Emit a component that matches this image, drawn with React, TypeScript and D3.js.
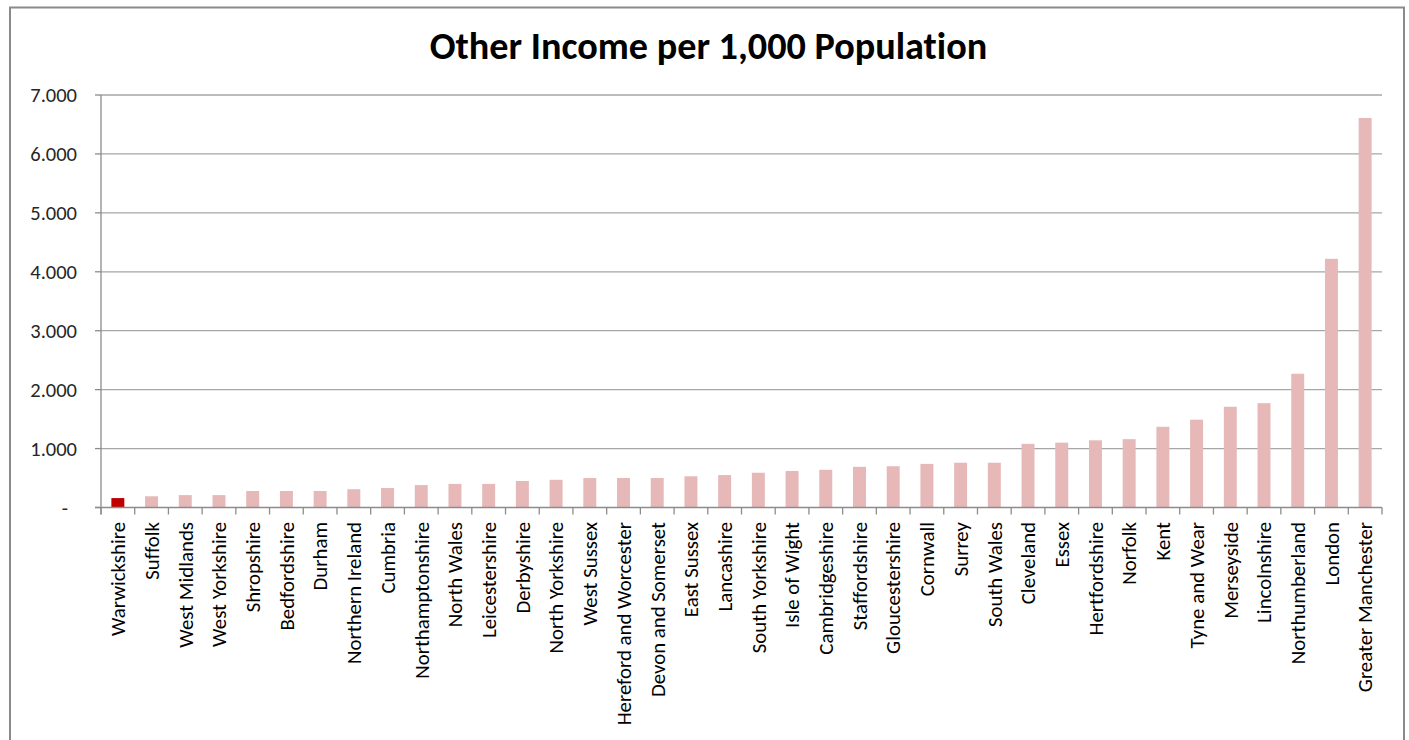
import React from "react";
import * as d3 from "d3";

const categories: string[] = [
  "Warwickshire", "Suffolk", "West Midlands", "West Yorkshire", "Shropshire",
  "Bedfordshire", "Durham", "Northern Ireland", "Cumbria", "Northamptonshire",
  "North Wales", "Leicestershire", "Derbyshire", "North Yorkshire", "West Sussex",
  "Hereford and Worcester", "Devon and Somerset", "East Sussex", "Lancashire",
  "South Yorkshire", "Isle of Wight", "Cambridgeshire", "Staffordshire",
  "Gloucestershire", "Cornwall", "Surrey", "South Wales", "Cleveland", "Essex",
  "Hertfordshire", "Norfolk", "Kent", "Tyne and Wear", "Merseyside",
  "Lincolnshire", "Northumberland", "London", "Greater Manchester",
];

const values: number[] = [
  0.16, 0.19, 0.21, 0.21, 0.28,
  0.28, 0.28, 0.31, 0.33, 0.38,
  0.40, 0.40, 0.45, 0.47, 0.50,
  0.50, 0.50, 0.53, 0.55,
  0.59, 0.62, 0.64, 0.69,
  0.70, 0.74, 0.76, 0.76, 1.08, 1.10,
  1.14, 1.16, 1.37, 1.49, 1.71,
  1.77, 2.27, 4.22, 6.61,
];

const highlighted: string[] = ["Warwickshire"];

const yTicks: number[] = [0, 1, 2, 3, 4, 5, 6, 7];
const yTickLabels: string[] = ["-", "1.000", "2.000", "3.000", "4.000", "5.000", "6.000", "7.000"];

const title = "Other Income per 1,000 Population";

const W = 1409;
const H = 740;
const plot = { left: 101, right: 1382, top: 95, bottom: 507.5 };
const FONT = "Calibri, Carlito, Lato, 'Open Sans', sans-serif";

export default function App() {
  const gap = 1.6;
  const pInner = gap / (1 + gap);
  const x = d3
    .scaleBand<string>()
    .domain(categories)
    .range([plot.left, plot.right])
    .paddingInner(pInner)
    .paddingOuter(pInner / 2);
  const xBounds = d3.scaleBand<string>().domain(categories).range([plot.left, plot.right]).padding(0);
  const y = d3.scaleLinear().domain([0, 7]).range([plot.bottom, plot.top]);

  const gridColor = "#A6A6A6";
  const axisColor = "#8C8C8C";

  const boundaries = categories.map((c) => xBounds(c) as number).concat([plot.right]);

  return (
    <svg
      width={W}
      height={H}
      style={{ position: "absolute", left: 0, top: 0, display: "block", background: "#fff", fontVariantLigatures: "none" }}
    >
      <rect x={0} y={0} width={W} height={H} fill="#fff" />
      <rect x={10} y={7.5} width={1394} height={780} fill="#fff" stroke="#8A8A8A" strokeWidth={2} />

      <text
        x={708.5}
        y={59}
        textAnchor="middle"
        fontFamily={FONT}
        fontWeight="bold"
        fontSize={38.2}
        fill="#000"
        style={{ fontVariantLigatures: "none" }}
      >
        {title}
      </text>

      {/* gridlines */}
      {yTicks.filter((t) => t > 0).map((t) => (
        <line key={"g" + t} x1={plot.left} x2={plot.right} y1={y(t)} y2={y(t)} stroke={gridColor} strokeWidth={1.3} />
      ))}

      {/* bars */}
      {categories.map((c, i) => (
        <rect
          key={c}
          x={x(c)}
          y={y(values[i])}
          width={x.bandwidth()}
          height={y(0) - y(values[i])}
          fill={highlighted.includes(c) ? "#C00000" : "#E6B8B7"}
        />
      ))}

      {/* y axis */}
      <line x1={plot.left} x2={plot.left} y1={plot.top} y2={plot.bottom + 7} stroke={axisColor} strokeWidth={1.3} />
      {yTicks.map((t, i) => (
        <g key={"y" + t}>
          <line x1={plot.left - 6} x2={plot.left} y1={y(t)} y2={y(t)} stroke={axisColor} strokeWidth={1.3} />
          <text
            x={t === 0 ? 68 : 77}
            y={y(t)}
            dy="0.35em"
            textAnchor="end"
            fontFamily={FONT}
            fontSize={20.5}
            fill="#262626"
          >
            {yTickLabels[i]}
          </text>
        </g>
      ))}

      {/* x axis */}
      <line x1={plot.left - 6} x2={plot.right} y1={plot.bottom} y2={plot.bottom} stroke={axisColor} strokeWidth={1.3} />
      {boundaries.map((bx, i) => (
        <line key={"t" + i} x1={bx} x2={bx} y1={plot.bottom} y2={plot.bottom + 7} stroke={axisColor} strokeWidth={1.3} />
      ))}
      {categories.map((c) => {
        const cx = (x(c) as number) + x.bandwidth() / 2;
        const ty = 522;
        return (
          <text
            key={"l" + c}
            transform={`translate(${cx},${ty}) rotate(-90)`}
            dy="0.35em"
            textAnchor="end"
            fontFamily={FONT}
            fontSize={20.8}
            fill="#000"
            style={{ fontVariantLigatures: "none" }}
          >
            {c}
          </text>
        );
      })}
    </svg>
  );
}
